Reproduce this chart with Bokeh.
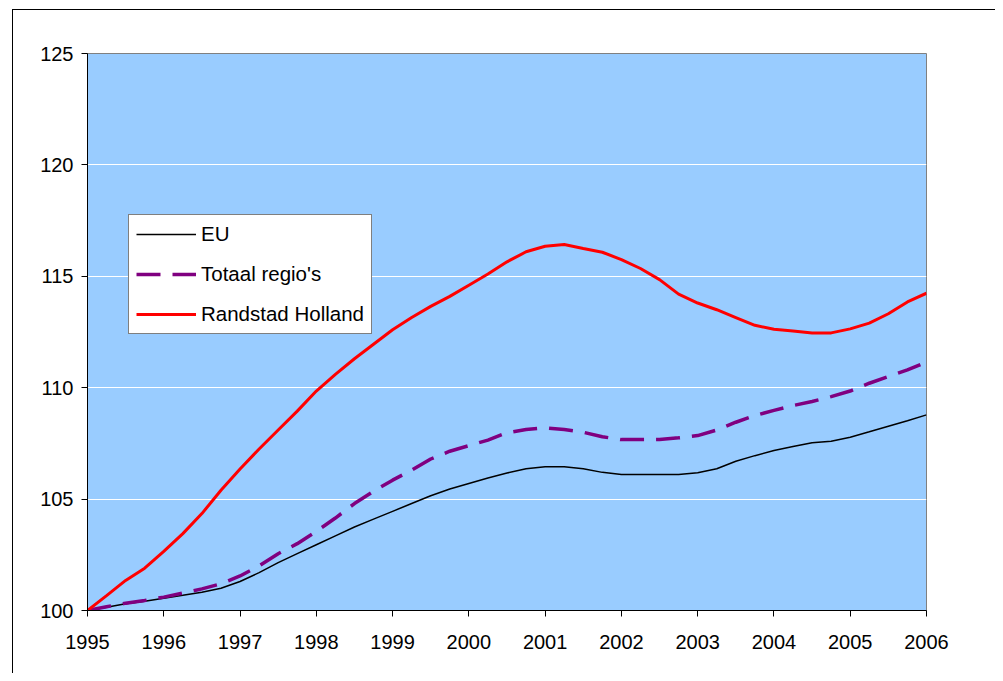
from bokeh.plotting import figure
from bokeh.models import Legend, LegendItem, FixedTicker, Label, Range1d, InlineStyleSheet
from bokeh.embed import file_html
from bokeh.resources import INLINE

quarters = [1995 + 0.25 * i for i in range(45)]

eu = [100.0, 100.15, 100.3, 100.42, 100.55, 100.68, 100.82, 101.0,
      101.3, 101.7, 102.15, 102.55, 102.95, 103.35, 103.75, 104.1,
      104.45, 104.8, 105.15, 105.45, 105.7, 105.95, 106.17, 106.36,
      106.45, 106.45, 106.36, 106.2, 106.1, 106.1, 106.1, 106.1,
      106.18, 106.36, 106.7, 106.95, 107.18, 107.36, 107.53, 107.6,
      107.78, 108.02, 108.27, 108.52, 108.78]

totaal = [100.0, 100.17, 100.33, 100.45, 100.6, 100.78, 100.97, 101.2,
          101.55, 102.0, 102.55, 103.0, 103.55, 104.15, 104.8, 105.35,
          105.85, 106.3, 106.8, 107.15, 107.4, 107.65, 107.98, 108.12,
          108.2, 108.12, 108.0, 107.8, 107.67, 107.67, 107.68, 107.75,
          107.85, 108.1, 108.45, 108.75, 108.98, 109.2, 109.38, 109.6,
          109.85, 110.2, 110.5, 110.8, 111.15]

randstad = [100.0, 100.67, 101.35, 101.9, 102.65, 103.45, 104.35, 105.4,
            106.35, 107.25, 108.1, 108.95, 109.85, 110.6, 111.3, 111.95,
            112.6, 113.15, 113.65, 114.1, 114.6, 115.1, 115.65, 116.1,
            116.35, 116.43, 116.25, 116.08, 115.75, 115.35, 114.85, 114.2,
            113.8, 113.5, 113.15, 112.8, 112.62, 112.55, 112.46, 112.46,
            112.64, 112.9, 113.32, 113.85, 114.24]

x_ticks = list(range(1995, 2007))
y_ticks = [100, 105, 110, 115, 120, 125]
series_names = ["EU", "Totaal regio's", "Randstad Holland"]
title_text = "1995 = 100"

FONT = "Liberation Sans"

# thin border of the chart area (left and top edges; the others lie outside the view)
frame_css = InlineStyleSheet(css=(
    ":host::after { content: ''; position: absolute; left: 12px; top: 9px; "
    "right: -8px; bottom: -8px; border-left: 1.3px solid black; "
    "border-top: 1.3px solid black; pointer-events: none; }"
))

p = figure(width=987, height=665, output_backend="svg", toolbar_location=None,
           x_range=Range1d(1995, 2006), y_range=Range1d(100, 125),
           stylesheets=[frame_css])
p.min_border_left = 87
p.min_border_right = 61
p.min_border_top = 53
p.min_border_bottom = 55

p.background_fill_color = "#99CCFF"
p.border_fill_color = "white"
p.outline_line_color = "#808080"
p.outline_line_width = 1

p.xgrid.grid_line_color = None
p.ygrid.grid_line_color = "white"
p.ygrid.grid_line_width = 1

p.xaxis.ticker = FixedTicker(ticks=x_ticks)
p.yaxis.ticker = FixedTicker(ticks=y_ticks)
for ax in (p.xaxis, p.yaxis):
    ax.major_tick_out = 6
    ax.major_tick_in = 0
    ax.minor_tick_out = 0
    ax.minor_tick_in = 0
    ax.axis_line_color = "black"
    ax.major_tick_line_color = "black"
    ax.major_label_text_font = FONT
    ax.major_label_text_font_size = "20px"
    ax.major_label_text_color = "black"
p.xaxis.major_label_standoff = 18
p.yaxis.major_label_standoff = 8

r_eu = p.line(quarters, eu, line_color="black", line_width=1.5)
r_tot = p.line(quarters, totaal, line_color="#800080", line_width=3.5, line_dash="24 12")
r_rand = p.line(quarters, randstad, line_color="#FF0000", line_width=3)

legend = Legend(items=[LegendItem(label=series_names[0], renderers=[r_eu]),
                       LegendItem(label=series_names[1], renderers=[r_tot]),
                       LegendItem(label=series_names[2], renderers=[r_rand])],
                location=(41, 276))
legend.label_text_font = FONT
legend.label_text_font_size = "20.5px"
legend.label_text_color = "black"
legend.glyph_width = 60
legend.glyph_height = 22
legend.label_height = 22
legend.label_standoff = 5
legend.spacing = 16
legend.padding = 7
legend.margin = 0
legend.border_line_color = "black"
legend.border_line_width = 1
legend.background_fill_color = "white"
legend.background_fill_alpha = 1
p.add_layout(legend, "center")

title = Label(x=1996.364, y=127.1, text=title_text, text_font="Liberation Serif",
              text_font_size="22px", text_align="center", text_baseline="alphabetic",
              text_color="black")
p.add_layout(title)

open("out.html", "w").write(file_html(p, INLINE))
